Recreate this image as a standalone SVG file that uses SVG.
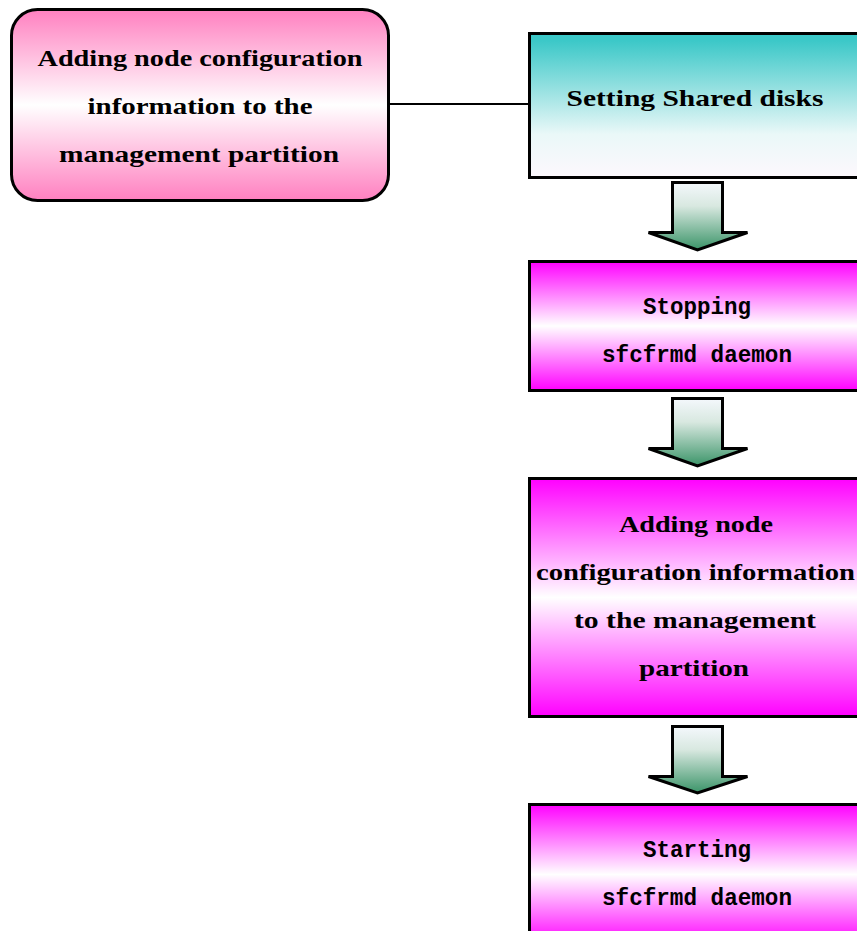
<svg xmlns="http://www.w3.org/2000/svg" width="857" height="931" viewBox="0 0 857 931">
<style>
.box{stroke:#000;stroke-width:3}
.t{font-family:"Liberation Serif",serif;font-weight:bold;font-size:24px;text-anchor:middle;fill:#000}
.m{font-family:"Liberation Mono",monospace;font-weight:bold;font-size:23px;text-anchor:middle;fill:#000}
.arr{fill:url(#gArrow);stroke:#000;stroke-width:3;stroke-linejoin:miter}
.conn{stroke:#000;stroke-width:2;fill:none}
</style>
<defs>
<linearGradient id="gPink" x1="0" y1="0" x2="0" y2="1">
<stop offset="0" stop-color="#ff80c0"/>
<stop offset="0.5" stop-color="#ffffff"/>
<stop offset="1" stop-color="#ff80c0"/>
</linearGradient>
<linearGradient id="gMag" x1="0" y1="0" x2="0" y2="1">
<stop offset="0" stop-color="#ff00ff"/>
<stop offset="0.5" stop-color="#ffffff"/>
<stop offset="1" stop-color="#ff00ff"/>
</linearGradient>
<linearGradient id="gTeal" x1="0" y1="0" x2="0" y2="1">
<stop offset="0.05" stop-color="#3cc8c8"/>
<stop offset="0.7" stop-color="#eaf8f8"/>
<stop offset="1" stop-color="#fdf8fd"/>
</linearGradient>
<linearGradient id="gArrow" x1="0" y1="0" x2="0" y2="1">
<stop offset="0" stop-color="#f4f8fc"/>
<stop offset="0.35" stop-color="#d8e8e0"/>
<stop offset="1" stop-color="#3a9468"/>
</linearGradient>
</defs>
<g id="connectors">
<line class="conn" x1="389" y1="104" x2="529" y2="104"/>
<path id="arrow1" class="arr" d="M672.5 182.5 H722.5 V232.5 H747.5 L697.5 250 L648.5 232.5 H672.5 Z"/>
<path id="arrow2" class="arr" d="M672.5 398.5 H722.5 V448.5 H747.5 L697.5 466 L648.5 448.5 H672.5 Z"/>
<path id="arrow3" class="arr" d="M672.5 726.5 H722.5 V776.5 H747.5 L697.5 793 L648.5 776.5 H672.5 Z"/>
</g>
<g id="node-left">
<rect class="box" x="11.5" y="9.5" width="377" height="191" rx="26" ry="26" fill="url(#gPink)"/>
<text class="t" x="200" y="66" textLength="325" lengthAdjust="spacingAndGlyphs">Adding node configuration</text>
<text class="t" x="200" y="114" textLength="225" lengthAdjust="spacingAndGlyphs">information to the</text>
<text class="t" x="199" y="162" textLength="280" lengthAdjust="spacingAndGlyphs">management partition</text>
</g>
<g id="node-shared">
<rect class="box" x="529.5" y="33.5" width="340" height="144" fill="url(#gTeal)"/>
<text class="t" x="695" y="106" textLength="257" lengthAdjust="spacingAndGlyphs">Setting Shared disks</text>
</g>
<g id="node-stop">
<rect class="box" x="529.5" y="261.5" width="340" height="129" fill="url(#gMag)"/>
<text class="m" x="697" y="314" textLength="108" lengthAdjust="spacingAndGlyphs">Stopping</text>
<text class="m" x="697" y="362" textLength="190" lengthAdjust="spacingAndGlyphs">sfcfrmd daemon</text>
</g>
<g id="node-add">
<rect class="box" x="529.5" y="478.5" width="340" height="238" fill="url(#gMag)"/>
<text class="t" x="696" y="532" textLength="154" lengthAdjust="spacingAndGlyphs">Adding node</text>
<text class="t" x="695.5" y="580" textLength="319" lengthAdjust="spacingAndGlyphs">configuration information</text>
<text class="t" x="695" y="628" textLength="242" lengthAdjust="spacingAndGlyphs">to the management</text>
<text class="t" x="694" y="676" textLength="110" lengthAdjust="spacingAndGlyphs">partition</text>
</g>
<g id="node-start">
<rect class="box" x="529.5" y="804.5" width="340" height="140" fill="url(#gMag)"/>
<text class="m" x="697" y="857" textLength="108" lengthAdjust="spacingAndGlyphs">Starting</text>
<text class="m" x="697" y="905" textLength="190" lengthAdjust="spacingAndGlyphs">sfcfrmd daemon</text>
</g>
</svg>
